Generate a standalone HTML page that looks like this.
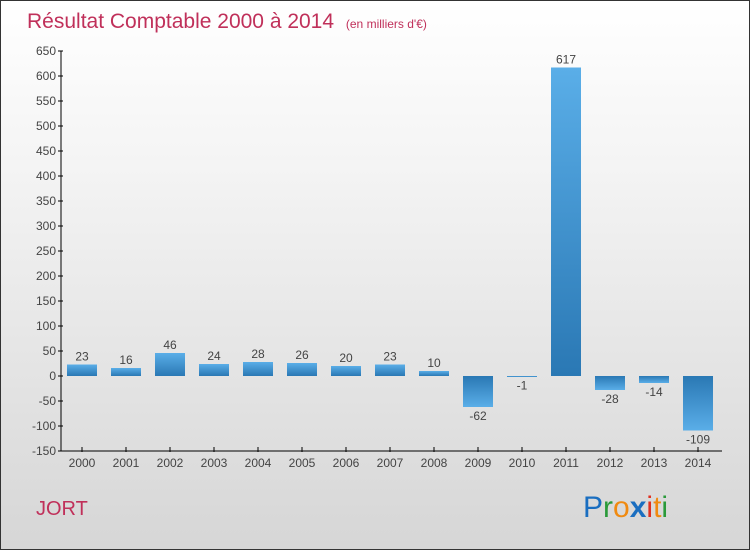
<!DOCTYPE html>
<html><head><meta charset="utf-8"><style>
body{margin:0;}
#c{position:relative;width:748px;height:548px;border:1px solid #333;background:linear-gradient(#ffffff,#f4f4f4 30%,#d6d6d6);font-family:"Liberation Sans",sans-serif;overflow:hidden}
</style></head><body>
<div id="c">
<svg width="748" height="548">
<defs>
<linearGradient id="gp" x1="0" y1="0" x2="0" y2="1"><stop offset="0" stop-color="#5aaee8"/><stop offset="1" stop-color="#2a78b4"/></linearGradient>
<linearGradient id="gn" x1="0" y1="0" x2="0" y2="1"><stop offset="0" stop-color="#2a78b4"/><stop offset="1" stop-color="#5aaee8"/></linearGradient>
</defs>
<text x="26" y="27" font-size="21" fill="#c0305a">Résultat Comptable 2000 à 2014 <tspan font-size="12" dx="6">(en milliers d'€)</tspan></text>
<g id="yaxis"></g>
<g id="bars"></g>
<g id="xaxis"></g>
<text x="35" y="514" font-size="20" fill="#c0305a">JORT</text>
<g font-size="30" font-family="'Liberation Sans',sans-serif">
<text x="582" y="516"><tspan fill="#1a6ec0">P</tspan><tspan fill="#2a9a3a">r</tspan><tspan fill="#f08a10">o</tspan><tspan fill="#1a6ec0" font-weight="bold">x</tspan><tspan fill="#e03020">i</tspan><tspan fill="#f08a10">t</tspan><tspan fill="#2a9a3a">i</tspan></text>
</g>
</svg>
</div>
<script>
const categories=["2000","2001","2002","2003","2004","2005","2006","2007","2008","2009","2010","2011","2012","2013","2014"];
const values=[23,16,46,24,28,26,20,23,10,-62,-1,617,-28,-14,-109];
const yTicks=[650,600,550,500,450,400,350,300,250,200,150,100,50,0,-50,-100,-150];
const ns="http://www.w3.org/2000/svg";
const y0=375,scale=0.5;
function y(v){return y0-v*scale;}
function x(i){return 81+i*44;}
function mk(t,a,p,txt){const e=document.createElementNS(ns,t);for(const k in a)e.setAttribute(k,a[k]);if(txt!==undefined)e.textContent=txt;p.appendChild(e);return e;}
const ya=document.getElementById('yaxis'),xa=document.getElementById('xaxis'),bg=document.getElementById('bars');
mk('line',{x1:60,y1:y(650),x2:60,y2:y(-150),stroke:'#000','stroke-width':1},ya);
yTicks.forEach(v=>{
 mk('line',{x1:57,y1:y(v),x2:62,y2:y(v),stroke:'#000'},ya);
 const t=mk('text',{x:55,y:y(v)+4,'text-anchor':'end','font-size':12,fill:'#444'},ya,String(v));
 
 
});
mk('line',{x1:60,y1:450,x2:721,y2:450,stroke:'#000'},xa);
categories.forEach((c,i)=>{
 mk('line',{x1:x(i),y1:446,x2:x(i),y2:451,stroke:'#000'},xa);
 const t=mk('text',{x:x(i),y:466,'text-anchor':'middle','font-size':12,fill:'#444'},xa,c);
 
 
 const v=values[i];
 const top=Math.min(y(v),y0),h=Math.max(Math.abs(y(v)-y0),1);
 const r=mk('rect',{x:x(i)-15,y:top,width:30,height:h,fill:v>=0?'url(#gp)':'url(#gn)'},bg);
 
 
 const ly=v>=0?y(v)-4:y(v)+13;
 const l=mk('text',{x:x(i),y:ly,'text-anchor':'middle','font-size':12,fill:'#444'},bg,v<0?'-'+Math.abs(v):String(v));
 
 
});
</script>
</body></html>
